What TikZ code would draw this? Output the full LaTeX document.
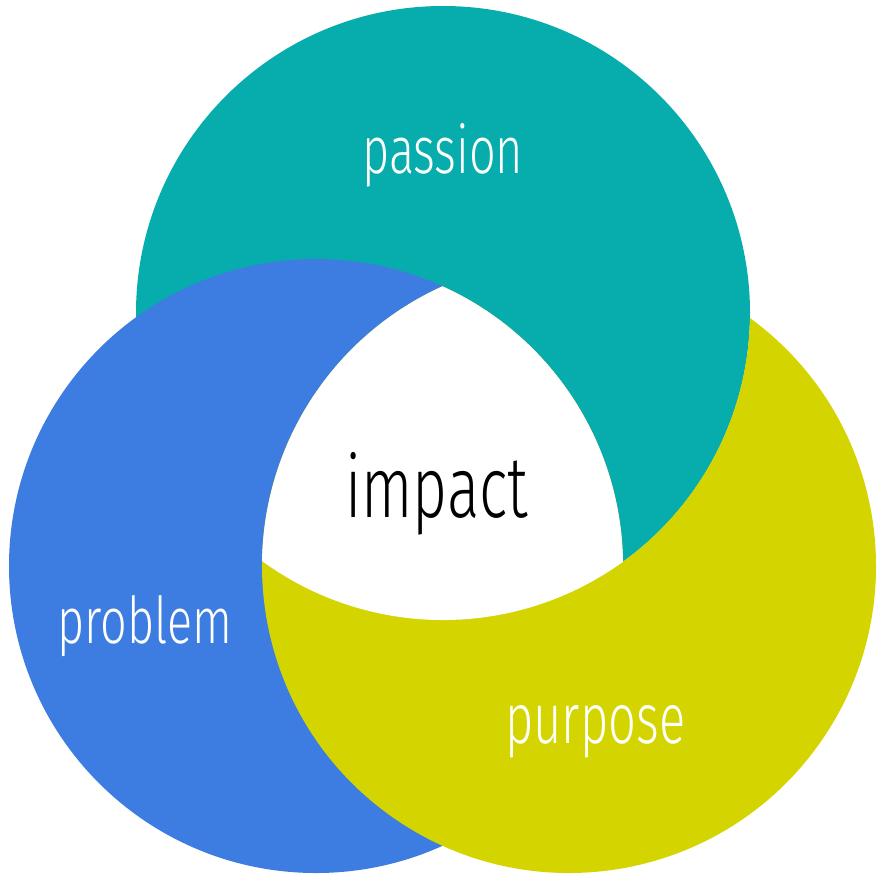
\documentclass[tikz,border=0pt]{standalone}
\usepackage{fontspec}
\newfontfamily\hand{Fira Sans}[UprightFont=* Light]
\definecolor{tealC}{HTML}{07ADAD}
\definecolor{blueC}{HTML}{3D7CE0}
\definecolor{yellowC}{HTML}{D4D500}
\tikzset{
  lbl/.style={inner sep=0pt, anchor=base west},
  rr/.style={radius=307}
}
\begin{document}
\begin{tikzpicture}[x=1pt,y=1pt]
\useasboundingbox (0,0) rectangle (888,-884);
\coordinate (cb) at (316,-566);
\coordinate (ct) at (443,-313);
\coordinate (cy) at (569,-566);
% teal full, blue over teal
\fill[tealC] (ct) circle[rr];
\fill[blueC] (cb) circle[rr];
% yellow = yellow circle minus (teal outside blue), drawn over blue
\fill[yellowC] (cy) ++(53.88:307)
  arc[start angle=53.88, end angle=-245.66, rr]
  arc[start angle=65.66, end angle=0.80, rr]
  arc[start angle=-54.11, end angle=-0.93, rr] -- cycle;
% white centre = intersection of all three circles
\fill[white] (cy) ++(114.34:307)
  arc[start angle=114.34, end angle=179.07, rr]
  arc[start angle=-126.12, end angle=-54.11, rr]
  arc[start angle=0.80, end angle=65.66, rr] -- cycle;
\node[lbl, text=white] (passion) at (362,-173) {\resizebox{161pt}{50pt}{\hand passion}};
\node[lbl, text=black] (impact) at (345,-517) {\resizebox{183pt}{65pt}{\hand impact}};
\node[lbl, text=white] (problem) at (57,-643) {\resizebox{175pt}{48pt}{\hand problem}};
\node[lbl, text=white] (purpose) at (505,-743) {\resizebox{180pt}{38pt}{\hand purpose}};
\end{tikzpicture}
\end{document}
